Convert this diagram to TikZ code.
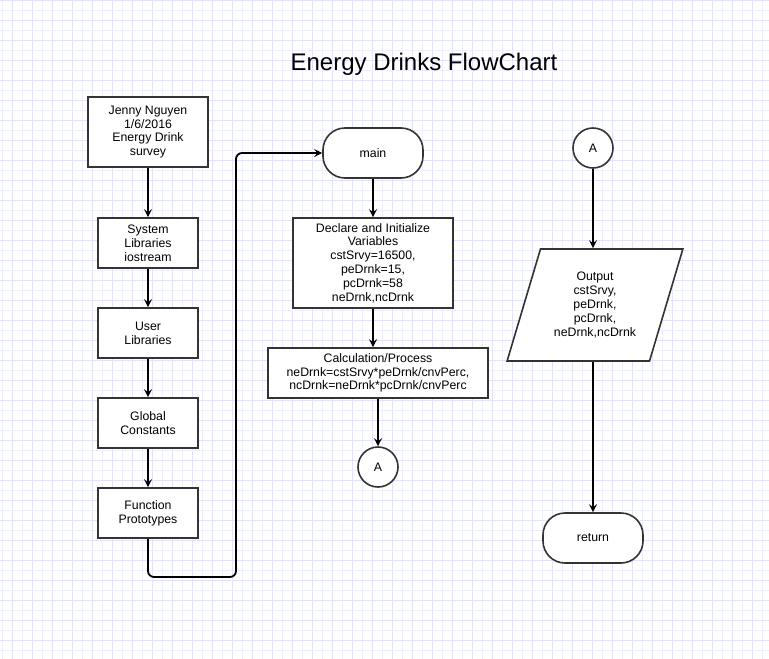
\documentclass[tikz,border=0pt]{standalone}
\usepackage{fontspec}
\setmainfont{Liberation Sans}
\usetikzlibrary{shapes.geometric,arrows.meta}
\definecolor{gridminor}{RGB}{238,238,255}
\definecolor{gridmajor}{RGB}{226,226,252}
\definecolor{edgegray}{RGB}{51,51,51}

\begin{document}
\begin{tikzpicture}[x=1pt,y=-1pt,
  box/.style={draw=edgegray,line width=1.6,fill=white,align=center,inner sep=0,
    font=\fontsize{12.3}{13.8}\selectfont},
  term/.style={box,rounded corners=22,minimum width=100,minimum height=50},
  conn/.style={box,circle,minimum size=40},
  flow/.style={line width=1.8,-{Stealth[length=8,width=8,inset=3]}}]
\useasboundingbox (0,0) rectangle (769,659);
\fill[white] (0,0) rectangle (769,659);
% grid
\foreach \gx in {2,22,...,762} \draw[gridminor,line width=1] (\gx,0) -- (\gx,659);
\foreach \gx in {12,32,...,769} \draw[gridmajor,line width=1] (\gx,0) -- (\gx,659);
\foreach \gy in {10.7,30.7,...,659} \draw[gridminor,line width=1] (0,\gy) -- (769,\gy);
\foreach \gy in {0.7,20.7,...,659} \draw[gridmajor,line width=1] (0,\gy) -- (769,\gy);

\node(title) at (424,64) {\fontsize{24}{28}\selectfont Energy Drinks FlowChart};

% left column
\node[box,minimum width=120,minimum height=70](header) at (148,132) {Jenny Nguyen\\1/6/2016\\Energy Drink\\survey};
\node[box,minimum width=100,minimum height=50](syslib) at (148,243) {System\\Libraries\\iostream};
\node[box,minimum width=100,minimum height=50](userlib) at (148,333) {User\\Libraries};
\node[box,minimum width=100,minimum height=50](globals) at (148,423) {Global\\Constants};
\node[box,minimum width=100,minimum height=50](proto) at (148,513) {Function\\Prototypes};
\draw[flow] (header) -- (syslib);
\draw[flow] (syslib) -- (userlib);
\draw[flow] (userlib) -- (globals);
\draw[flow] (globals) -- (proto);

% middle column
\node[term](main) at (373,153) {main};
\node[box,minimum width=160,minimum height=90](declare) at (373,263) {Declare and Initialize\\Variables\\cstSrvy=16500,\\peDrnk=15,\\pcDrnk=58\\neDrnk,ncDrnk};
\node[box,minimum width=220,minimum height=50](calc) at (378,373) {Calculation/Process\\neDrnk=cstSrvy*peDrnk/cnvPerc,\\ncDrnk=neDrnk*pcDrnk/cnvPerc};
\node[conn](outA) at (378,467) {A};
\coordinate(loop) at (236,577);
\draw[flow,rounded corners=6] (proto.south) |- (loop) |- (main.west);
\draw[flow] (main) -- (declare);
\draw[flow] (declare.south) -- (declare.south |- calc.north);
\draw[flow] (calc) -- (outA);

% right column
\node[conn](inA) at (593,148) {A};
\node[box,trapezium,trapezium left angle=69,trapezium right angle=111,trapezium stretches=true,
  minimum width=176,minimum height=112](output) at (595,305) {Output\\cstSrvy,\\peDrnk,\\pcDrnk,\\neDrnk,ncDrnk};
\node[term](ret) at (593,538) {return};
\draw[flow] (inA) -- (inA |- output.north);
\draw[flow] (ret |- output.south) -- (ret);

\end{tikzpicture}
\end{document}
